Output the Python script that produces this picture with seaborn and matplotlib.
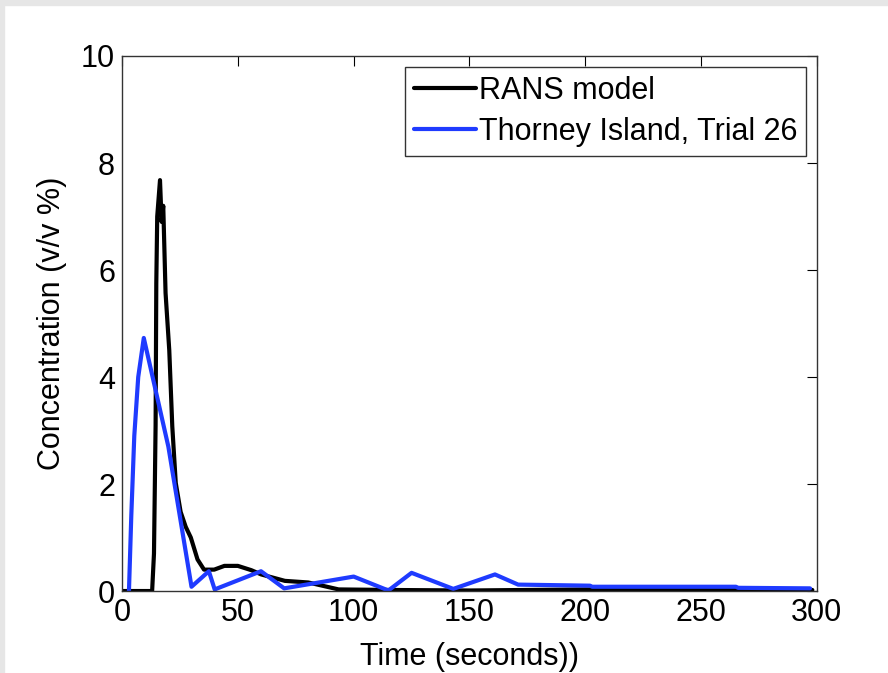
import pandas as pd
import matplotlib
matplotlib.use("Agg")
import matplotlib.pyplot as plt
import seaborn as sns
from matplotlib.patches import Rectangle

# RANS model concentration (v/v %)
rans_time = [0, 13, 13.8, 14.5, 14.8, 15.2, 16.4, 17.1, 17.8, 18.8, 20.4, 21.7,
             23.2, 25.3, 27.5, 29.7, 32.6, 35.4, 39.8, 44.2, 50, 55.8, 60.1,
             70.3, 80.4, 93.5, 115, 150, 200, 265, 298]
rans_conc = [0, 0, 0.7, 3.1, 5.75, 7.0, 7.68, 6.9, 7.2, 5.57, 4.5, 3.08,
             2.02, 1.48, 1.2, 1.0, 0.59, 0.4, 0.4, 0.47, 0.47, 0.39, 0.31,
             0.19, 0.16, 0.03, 0.02, 0.01, 0.03, 0.03, 0.02]

# Thorney Island, Trial 26 measurements
trial_time = [3, 4, 5.3, 7, 9.4, 20, 30, 37.5, 40, 60, 70, 100, 115, 125,
              143, 161, 171, 202, 203, 265, 266, 297]
trial_conc = [0, 1.4, 2.9, 4.0, 4.73, 2.7, 0.08, 0.37, 0.03, 0.37, 0.05,
              0.27, 0.01, 0.34, 0.04, 0.31, 0.12, 0.1, 0.08, 0.08, 0.06, 0.05]

rans = pd.DataFrame({"Time": rans_time, "Conc": rans_conc})
trial = pd.DataFrame({"Time": trial_time, "Conc": trial_conc})

sns.set_style("white")
plt.rcParams["font.family"] = ["Liberation Sans", "DejaVu Sans"]
plt.rcParams["text.color"] = "black"
plt.rcParams["axes.labelcolor"] = "black"

fig = plt.figure(figsize=(8.88, 6.73), dpi=100)
ax = fig.add_axes([0.1374, 0.1218, 0.7826, 0.795])

# light grey frame of the screenshot
fig.patches.append(Rectangle((0, 0.992), 1, 0.008, transform=fig.transFigure,
                             color="#e6e6e6", zorder=0))
fig.patches.append(Rectangle((0, 0), 0.005, 1, transform=fig.transFigure,
                             color="#e6e6e6", zorder=0))

sns.lineplot(data=rans, x="Time", y="Conc", ax=ax, color="black",
             linewidth=3, estimator=None, label="RANS model")
sns.lineplot(data=trial, x="Time", y="Conc", ax=ax, color="#1f3bff",
             linewidth=3, estimator=None, label="Thorney Island, Trial 26")

ax.set_xlim(0, 300)
ax.set_ylim(0, 10)
ax.set_xticks([0, 50, 100, 150, 200, 250, 300])
ax.set_yticks([0, 2, 4, 6, 8, 10])
ax.tick_params(direction="in", length=7, width=0.8, labelsize=22,
               top=True, right=True, pad=5, colors="black")
for s in ax.spines.values():
    s.set_color("#333333")
    s.set_linewidth(1)

ax.set_xlabel("Time (seconds))", fontsize=22, labelpad=10)
ax.set_ylabel("Concentration (v/v %)", fontsize=22, labelpad=10)

leg = ax.legend(loc="upper right", fontsize=22, handlelength=2.0,
                handletextpad=0.1, borderaxespad=0.35, labelspacing=0.35,
                borderpad=0.3, fancybox=False, framealpha=1)
leg.get_frame().set_edgecolor("#333333")
leg.get_frame().set_linewidth(1)

fig.savefig("out.png", dpi=100, facecolor="white")
